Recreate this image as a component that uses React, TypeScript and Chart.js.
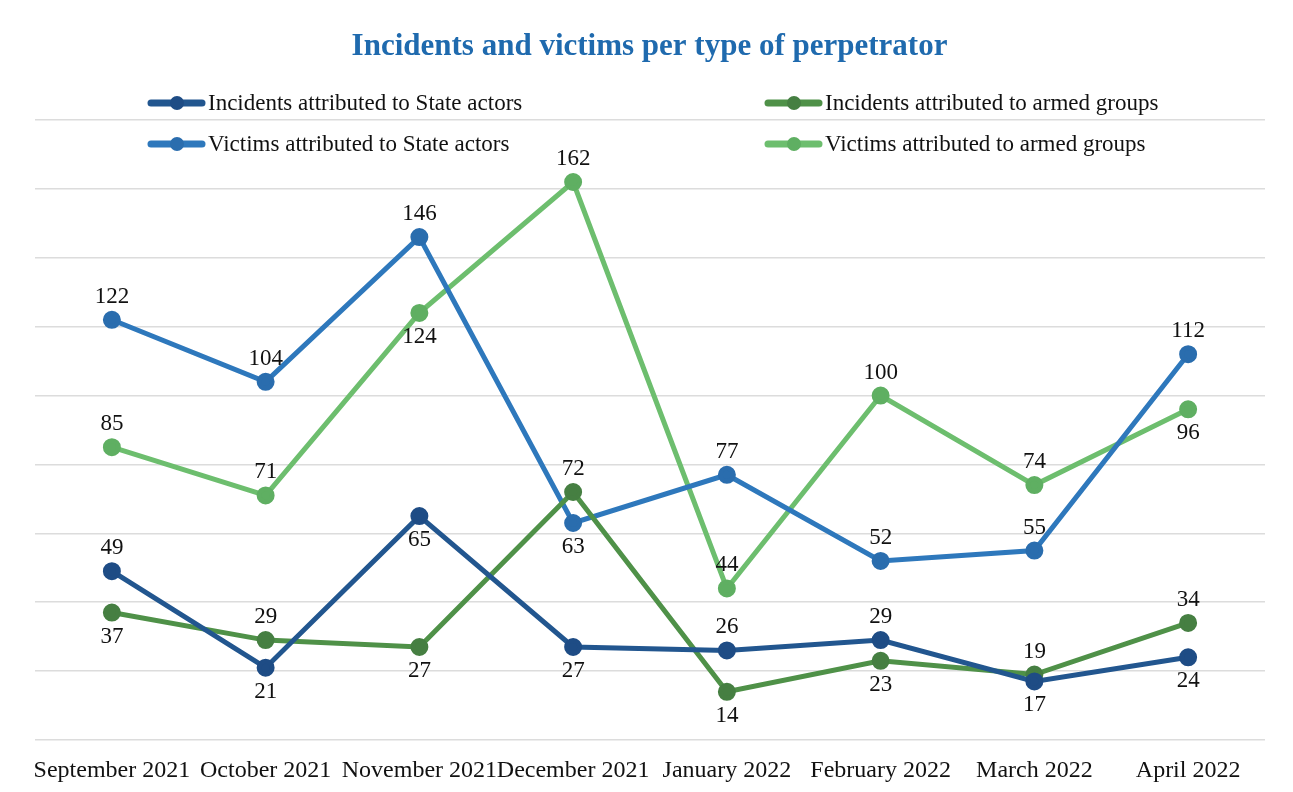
import React, { useEffect, useRef } from "react";
import { Chart, registerables } from "chart.js";

Chart.register(...registerables);

const months = [
  "September 2021",
  "October 2021",
  "November 2021",
  "December 2021",
  "January 2022",
  "February 2022",
  "March 2022",
  "April 2022",
];
const incidentsState = [49, 21, 65, 27, 26, 29, 17, 24];
const incidentsArmed = [37, 29, 27, 72, 14, 23, 19, 34];
const victimsState = [122, 104, 146, 63, 77, 52, 55, 112];
const victimsArmed = [85, 71, 124, 162, 44, 100, 74, 96];

// label placement: a = above, b = below
const incidentsStatePos = ["a", "b", "b", "b", "a", "a", "b", "b"];
const incidentsArmedPos = ["b", "a", "b", "a", "b", "b", "a", "a"];
const victimsStatePos = ["a", "a", "a", "b", "a", "a", "a", "a"];
const victimsArmedPos = ["a", "a", "b", "a", "a", "a", "a", "b"];

const yMin = 0;
const yMax = 180;
const yStep = 20;

const TITLE = "Incidents and victims per type of perpetrator";
const SERIF = "'Liberation Serif', 'DejaVu Serif', serif";

const series = [
  { label: "Incidents attributed to State actors", data: incidentsState, pos: incidentsStatePos, line: "#22568F", point: "#1E4C85", legendX: 140, legendRow: 0 },
  { label: "Incidents attributed to armed groups", data: incidentsArmed, pos: incidentsArmedPos, line: "#4F9148", point: "#467F42", legendX: 757, legendRow: 0 },
  { label: "Victims attributed to State actors", data: victimsState, pos: victimsStatePos, line: "#2E78BC", point: "#2A6DAE", legendX: 140, legendRow: 1 },
  { label: "Victims attributed to armed groups", data: victimsArmed, pos: victimsArmedPos, line: "#6DBE6E", point: "#5FAF62", legendX: 757, legendRow: 1 },
];

const decorPlugin = {
  id: "decor",
  afterDatasetsDraw(chart: any) {
    const ctx = chart.ctx;
    ctx.save();
    // data labels
    ctx.font = `23px ${SERIF}`;
    ctx.fillStyle = "#111111";
    ctx.textAlign = "center";
    ctx.textBaseline = "middle";
    chart.data.datasets.forEach((ds: any, i: number) => {
      const meta = chart.getDatasetMeta(i);
      const pos = series[i].pos;
      meta.data.forEach((el: any, j: number) => {
        const dy = pos[j] === "a" ? -23 : 24;
        ctx.fillText(String(ds.data[j]), el.x, el.y + dy);
      });
    });
    // title
    ctx.font = `bold 31px ${SERIF}`;
    ctx.fillStyle = "#1F6AAE";
    ctx.fillText(TITLE, chart.width / 2 + 3, 39);
    // legend
    const rowsY = [95, 136];
    ctx.textAlign = "left";
    ctx.font = `23px ${SERIF}`;
    series.forEach((s) => {
      const x = s.legendX;
      const y = rowsY[s.legendRow];
      ctx.strokeStyle = s.line;
      ctx.lineWidth = 7;
      ctx.lineCap = "round";
      ctx.beginPath();
      ctx.moveTo(x + 3, y);
      ctx.lineTo(x + 54, y);
      ctx.stroke();
      ctx.fillStyle = s.point;
      ctx.beginPath();
      ctx.arc(x + 29, y, 7, 0, Math.PI * 2);
      ctx.fill();
      ctx.fillStyle = "#111111";
      ctx.fillText(s.label, x + 60, y + 1);
    });
    ctx.restore();
  },
};

export default function App() {
  const ref = useRef<HTMLCanvasElement | null>(null);
  useEffect(() => {
    if (!ref.current) return;
    const chart = new Chart(ref.current, {
      type: "line",
      data: {
        labels: months,
        datasets: series.map((s) => ({
          label: s.label,
          data: s.data,
          borderColor: s.line,
          backgroundColor: s.point,
          pointBackgroundColor: s.point,
          pointBorderColor: s.point,
          borderWidth: 5,
          pointRadius: 6.5,
          pointHoverRadius: 6.5,
          tension: 0,
          fill: false,
        })),
      },
      options: {
        animation: false,
        responsive: true,
        maintainAspectRatio: false,
        layout: { padding: { top: 112, left: 27, right: 20, bottom: 0 } },
        plugins: {
          legend: { display: false },
          title: { display: false },
          tooltip: { enabled: false },
        },
        scales: {
          x: {
            offset: true,
            grid: { display: false, drawTicks: false },
            border: { display: false },
            ticks: {
              padding: 16,
              color: "#111111",
              font: { family: SERIF, size: 24 },
              maxRotation: 0,
              autoSkip: false,
            },
            afterFit(scale: any) {
              scale.height = 44;
            },
          },
          y: {
            min: yMin,
            max: yMax,
            ticks: { stepSize: yStep, display: false },
            grid: { color: "#DCDCDC", lineWidth: 1.5, drawTicks: false },
            border: { display: false },
            afterFit(scale: any) {
              scale.width = 0;
            },
          },
        },
      },
      plugins: [decorPlugin],
    });
    return () => chart.destroy();
  }, []);
  return (
    <div style={{ width: 1277, height: 776, position: "relative", background: "#FFFFFF" }}>
      <canvas ref={ref} />
    </div>
  );
}
